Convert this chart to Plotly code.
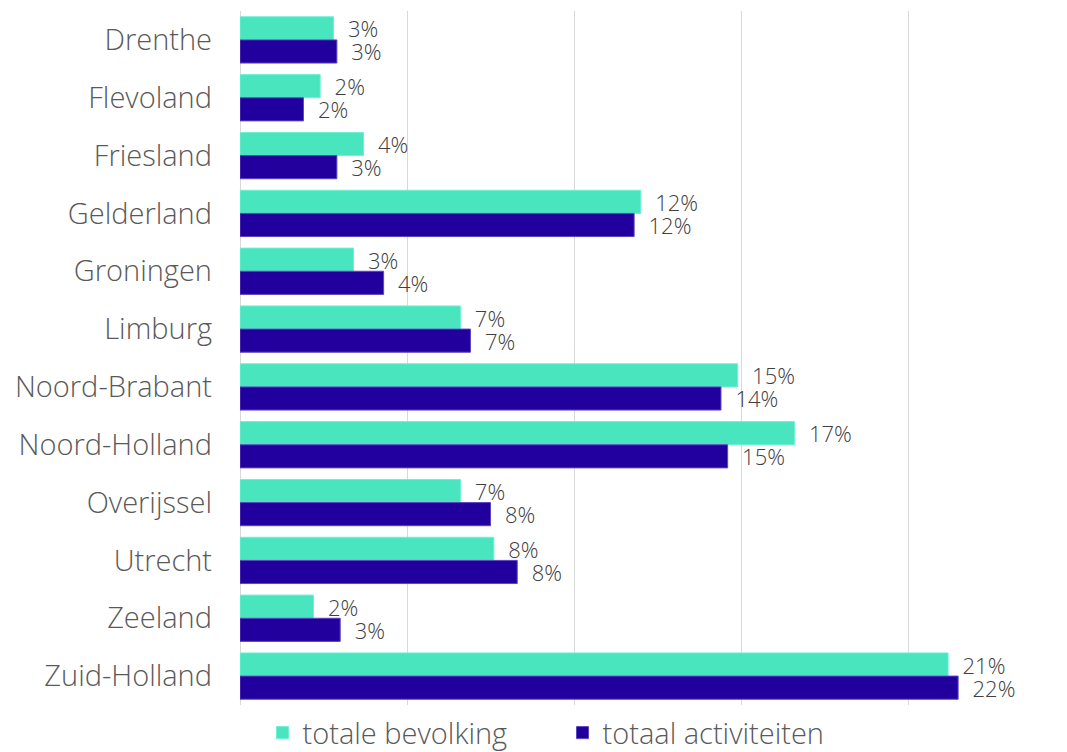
import plotly.graph_objects as go

provinces = ["Drenthe", "Flevoland", "Friesland", "Gelderland", "Groningen", "Limburg",
             "Noord-Brabant", "Noord-Holland", "Overijssel", "Utrecht", "Zeeland", "Zuid-Holland"]
totale_bevolking = [0.028, 0.024, 0.037, 0.120, 0.034, 0.066, 0.149, 0.166, 0.066, 0.076, 0.022, 0.212]
totaal_activiteiten = [0.029, 0.019, 0.029, 0.118, 0.043, 0.069, 0.144, 0.146, 0.075, 0.083, 0.030, 0.215]

FONT = "Open Sans, Lato, DejaVu Sans, sans-serif"

fig = go.Figure()
fig.add_trace(go.Bar(
    y=provinces, x=totale_bevolking, orientation="h", name="totale bevolking",
    marker=dict(color="#48E5BF", line=dict(color="#6FF0D2", width=1)),
    texttemplate="  %{x:.0%}", textposition="outside", cliponaxis=False,
    textfont=dict(family=FONT, size=22, color="#404040", weight=300), constraintext="none",
))
fig.add_trace(go.Bar(
    y=provinces, x=totaal_activiteiten, orientation="h", name="totaal activiteiten",
    marker=dict(color="#22009E", line=dict(color="#5A45C0", width=1)),
    texttemplate="  %{x:.0%}", textposition="outside", cliponaxis=False,
    textfont=dict(family=FONT, size=22, color="#404040", weight=300), constraintext="none",
))

fig.update_layout(
    width=1059, height=744,
    margin=dict(l=232, r=0, t=3, b=47, autoexpand=False),
    barmode="group", bargap=0.2, bargroupgap=0,
    plot_bgcolor="white", paper_bgcolor="white",
    font=dict(family=FONT, color="#595959"),
    legend=dict(orientation="h", x=0.39, xanchor="center", y=-0.040, yanchor="middle",
                font=dict(family=FONT, size=29, color="#595959", weight=300), itemwidth=30,
                entrywidth=255, traceorder="normal"),
    xaxis=dict(range=[0, 0.2476], showticklabels=False, showgrid=True, gridcolor="#D9D9D9",
               gridwidth=1, dtick=0.05, tick0=0, zeroline=True, zerolinecolor="#D9D9D9",
               zerolinewidth=1, fixedrange=True, automargin=False),
    yaxis=dict(autorange="reversed", tickfont=dict(family=FONT, size=29, color="#595959", weight=300),
               ticks="", ticklabelstandoff=27, showline=False, automargin=False),
)

fig.write_html("out.html")
